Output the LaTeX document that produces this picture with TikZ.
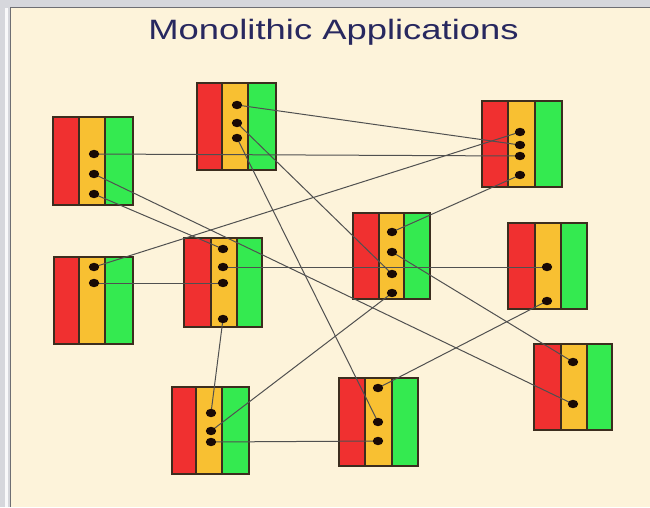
\documentclass[tikz,border=0pt]{standalone}
\usepackage{fontspec}
\setmainfont{Liberation Sans}
\definecolor{outerg}{RGB}{214,215,220}
\definecolor{panelc}{RGB}{253,243,218}
\definecolor{framec}{RGB}{110,110,115}
\definecolor{redc}{RGB}{240,48,48}
\definecolor{yelc}{RGB}{248,192,50}
\definecolor{grnc}{RGB}{52,234,80}
\definecolor{edgec}{RGB}{60,45,30}
\definecolor{linec}{RGB}{80,80,80}
\definecolor{dotc}{RGB}{25,10,5}
\definecolor{titlec}{RGB}{40,40,95}
\tikzset{
  colbox/.style={line width=1.1pt, draw=edgec},
  link/.style={draw=linec, line width=1pt},
  dotmark/.style={fill=dotc}
}
% \appbox{left}{top}{right}{bottom}{c1}{c2}
\newcommand{\appbox}[6]{%
  \fill[redc] (#1,#2) rectangle (#5,#4);
  \fill[yelc] (#5,#2) rectangle (#6,#4);
  \fill[grnc] (#6,#2) rectangle (#3,#4);
  \draw[colbox] (#1,#2) rectangle (#3,#4);
  \draw[colbox] (#5,#2) -- (#5,#4);
  \draw[colbox] (#6,#2) -- (#6,#4);
}
\begin{document}
\begin{tikzpicture}[x=1pt,y=-1pt]
\useasboundingbox (0,0) rectangle (650,507);
% frame
\fill[outerg] (0,0) rectangle (650,507);
\fill[white!85!outerg] (5,8) rectangle (8,507);
\fill[panelc] (11,8) rectangle (650,507);
\draw[framec, line width=1.2pt] (10.5,507) -- (10.5,7.5) -- (650,7.5);
% title
\node[anchor=base, text=titlec, font=\fontsize{28}{32}\selectfont] (title) at (333.5,39) {\scalebox{1.3}[1]{Monolithic Applications}};
% boxes
\appbox{53}{117}{133}{205}{79}{105}
\appbox{197}{83}{276}{170}{222}{248}
\appbox{482}{101}{562}{187}{508}{535}
\appbox{54}{257}{133}{344}{79}{105}
\appbox{184}{238}{262}{327}{211}{237}
\appbox{353}{213}{430}{299}{379}{404}
\appbox{508}{223}{587}{309}{535}{561}
\appbox{534}{344}{612}{430}{561}{587}
\appbox{172}{387}{249}{474}{196}{222}
\appbox{339}{378}{418}{466}{365}{392}
% dot positions
\coordinate (A1) at (94,154); \coordinate (A2) at (94,174); \coordinate (A3) at (94,194);
\coordinate (B1) at (237,105); \coordinate (B2) at (237,123); \coordinate (B3) at (237,138);
\coordinate (C1) at (520,132); \coordinate (C2) at (520,145); \coordinate (C3) at (520,156); \coordinate (C4) at (520,175);
\coordinate (D1) at (94,267); \coordinate (D2) at (94,283);
\coordinate (E1) at (223,249); \coordinate (E2) at (223,267); \coordinate (E3) at (223,283); \coordinate (E4) at (223,319);
\coordinate (F1) at (392,232); \coordinate (F2) at (392,252); \coordinate (F3) at (392,274); \coordinate (F4) at (392,293);
\coordinate (G1) at (547,267); \coordinate (G2) at (547,301);
\coordinate (H1) at (573,362); \coordinate (H2) at (573,404);
\coordinate (I1) at (211,413); \coordinate (I2) at (211,431); \coordinate (I3) at (211,442);
\coordinate (J1) at (378,388); \coordinate (J2) at (378,422); \coordinate (J3) at (378,441);
% connectors
\draw[link] (A1) -- (C3);
\draw[link] (A2) -- (H2);
\draw[link] (A3) -- (E1);
\draw[link] (B1) -- (C2);
\draw[link] (B2) -- (F3);
\draw[link] (B3) -- (J2);
\draw[link] (C1) -- (D1);
\draw[link] (C4) -- (F1);
\draw[link] (D2) -- (E3);
\draw[link] (E2) -- (G1);
\draw[link] (E4) -- (I1);
\draw[link] (F2) -- (H1);
\draw[link] (F4) -- (I2);
\draw[link] (G2) -- (J1);
\draw[link] (I3) -- (J3);
% dots
\foreach \p in {A1,A2,A3,B1,B2,B3,C1,C2,C3,C4,D1,D2,E1,E2,E3,E4,F1,F2,F3,F4,G1,G2,H1,H2,I1,I2,I3,J1,J2,J3}
  \fill[dotmark] (\p) ellipse (5.2 and 4.2);
\end{tikzpicture}
\end{document}
